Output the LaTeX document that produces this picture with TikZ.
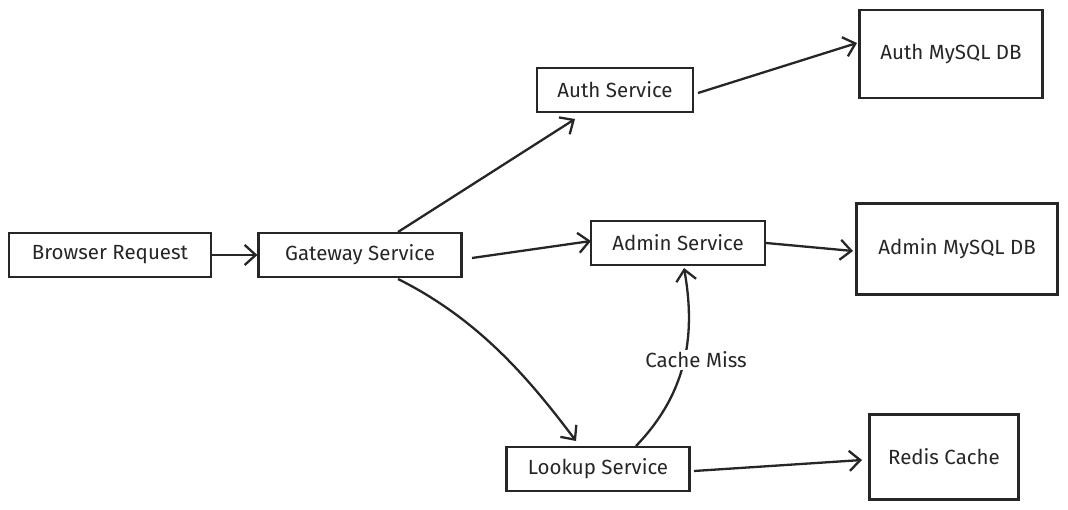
\documentclass[tikz,border=0pt]{standalone}
\usepackage{fontspec}
\setmainfont{Fira Sans}
\usetikzlibrary{arrows.meta}
\tikzset{
  svc/.style={draw, line width=2.2pt, minimum height=44pt, inner sep=0pt, font=\fontsize{20.5}{24}\selectfont},
  db/.style={svc, minimum height=88pt},
  flow/.style={line width=2.3pt, -{Straight Barb[length=11pt, width=20pt, line width=2.3pt]}}
}
\begin{document}
\begin{tikzpicture}[x=1pt, y=-1pt, color={black!85}]
\useasboundingbox (0,0) rectangle (1068,510);
\node[svc, minimum width=202pt] (B) at (110,255) {Browser Request};
\node[svc, minimum width=203pt] (G) at (360,255) {Gateway Service};
\node[svc, minimum width=156pt] (Au) at (615,90) {Auth Service};
\node[svc, minimum width=174pt] (Ad) at (678,243) {Admin Service};
\node[svc, minimum width=183pt] (L) at (598,469) {Lookup Service};
\node[db, minimum width=183pt] (AuDB) at (951,54) {Auth MySQL DB};
\node[db, minimum width=201pt, minimum height=91pt] (AdDB) at (957,249) {Admin MySQL DB};
\node[db, minimum width=149pt, minimum height=85pt] (R) at (944,457) {Redis Cache};

\coordinate (Gn) at (398,232);
\coordinate (Gs) at (398,279);
\coordinate (Lm) at (636,446);
\draw[flow] (B) -- (G);
\draw[flow] (Gn) -- (575,119);
\draw[flow] (472,258) -- (591,241);
\draw[flow] (Gs) .. controls (480,320) and (530,380) .. (576,441);
\draw[flow] (698,93) -- (857,43);
\draw[flow] (Ad.east) -- (853,251);
\draw[flow] (694,471) -- (862,460);
\draw[flow] (Lm) .. controls (690,390) and (695,330) .. (684,268);
\node[fill=white, inner sep=2pt, font=\fontsize{20.5}{24}\selectfont] (CM) at (696,360) {Cache Miss};
\end{tikzpicture}
\end{document}
